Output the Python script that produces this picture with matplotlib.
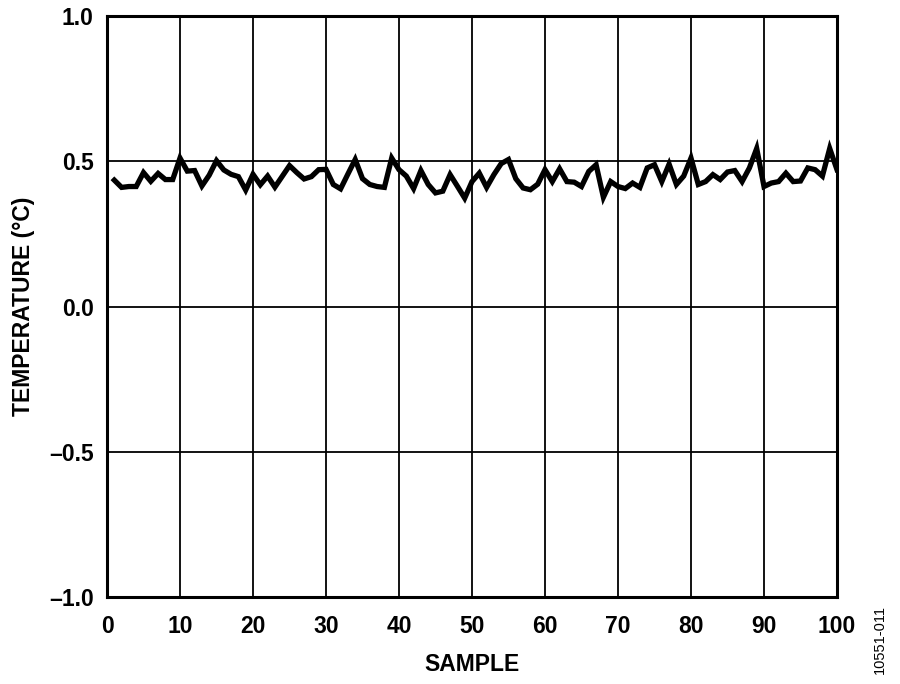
import matplotlib
matplotlib.use("Agg")
import matplotlib.pyplot as plt

samples = list(range(1, 101))
temperature = [
    0.435, 0.41, 0.413, 0.413, 0.461, 0.431, 0.458, 0.437, 0.437, 0.511,
    0.466, 0.468, 0.415, 0.452, 0.502, 0.47, 0.455, 0.447, 0.401, 0.455,
    0.419, 0.449, 0.411, 0.448, 0.485, 0.461, 0.439, 0.447, 0.471, 0.472,
    0.42, 0.405, 0.456, 0.506, 0.44, 0.42, 0.413, 0.41, 0.511, 0.471,
    0.449, 0.406, 0.468, 0.42, 0.391, 0.397, 0.454, 0.414, 0.373, 0.43,
    0.459, 0.41, 0.454, 0.492, 0.506, 0.44, 0.408, 0.402, 0.421, 0.471,
    0.43, 0.474, 0.43, 0.428, 0.413, 0.465, 0.488, 0.376, 0.43, 0.413,
    0.406, 0.425, 0.41, 0.477, 0.488, 0.43, 0.49, 0.42, 0.449, 0.511,
    0.42, 0.43, 0.454, 0.437, 0.463, 0.468, 0.43, 0.477, 0.544, 0.413,
    0.425, 0.43, 0.459, 0.43, 0.432, 0.477, 0.471, 0.449, 0.544, 0.471,
]
xticks = list(range(0, 101, 10))
yticks = [-1.0, -0.5, 0.0, 0.5, 1.0]
ytick_labels = ["\u20131.0", "\u20130.5", "0.0", "0.5", "1.0"]

plt.rcParams['font.family'] = ['Liberation Sans', 'DejaVu Sans']
FS = 16.5

fig = plt.figure(figsize=(9, 6.84), dpi=100)
ax = fig.add_axes([107/900, 1-597/684, (837-107)/900, (597-16)/684])

ax.plot(samples, temperature, color='black', lw=3.8, solid_joinstyle='miter', zorder=3)

ax.set_xlim(0, 100)
ax.set_ylim(-1.0, 1.0)
ax.set_xticks(xticks)
ax.set_xticklabels([str(t) for t in xticks], fontsize=FS, fontweight='bold')
ax.set_yticks(yticks)
ax.set_yticklabels(ytick_labels, fontsize=FS, fontweight='bold')
ax.tick_params(axis='x', length=0, pad=13)
ax.tick_params(axis='y', length=0, pad=9.5)
ax.grid(True, color='black', lw=1.3)
for s in ax.spines.values():
    s.set_linewidth(2.2)
    s.set_color('black')

ax.set_xlabel("SAMPLE", fontsize=FS, fontweight='bold')
ax.xaxis.set_label_coords(0.5, -0.096)
ax.set_ylabel("TEMPERATURE (°C)", fontsize=FS, fontweight='bold')
ax.yaxis.set_label_coords(-0.099, 0.5)

fig.text(880/900, 1-639/684, "10551-011", rotation=90, fontsize=10.5, ha='center', va='center')

fig.savefig("out.png", dpi=100)
